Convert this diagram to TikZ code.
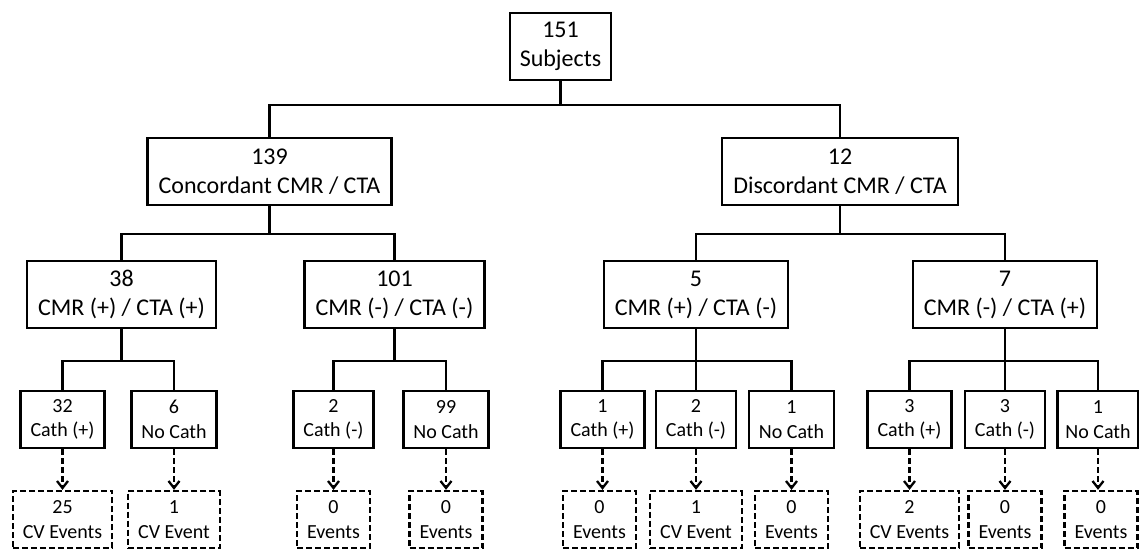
\documentclass[tikz,border=0pt]{standalone}
\usepackage{fontspec}
\setmainfont{Carlito}
\usepackage{tikz}
\usetikzlibrary{positioning, shapes.geometric, arrows.meta}
\tikzstyle{group} = [rectangle, draw=black, line width=2.3pt, text centered, align=center, minimum height=67pt, inner xsep=11pt, font=\fontsize{24}{29}\selectfont]
\tikzstyle{cath} = [rectangle, draw=black, line width=2.3pt, text centered, align=center, minimum height=57pt, inner xsep=10pt, font=\fontsize{20}{24.4}\selectfont]
\tikzstyle{events} = [cath, dash pattern=on 6pt off 3pt]
\tikzstyle{branch} = [line width=2.3pt]
\tikzstyle{arrow} = [line width=2.3pt, dash pattern=on 6pt off 3pt, -{Straight Barb[length=7pt,width=11pt]}]
\def\ttx{25pt}

\begin{document}
\begin{tikzpicture}[x=1pt, y=1pt, node distance=125pt]
\useasboundingbox (0,0) rectangle (1139,551);
\node (root) [group, inner xsep=10pt] at (560.5,504.5) {151\\Subjects};

\node (conc) [group, below of=root, xshift=-291pt] {139\\Concordant CMR / CTA};
\node (disc) [group, below of=root, xshift=279.5pt] {12\\Discordant CMR / CTA};
\draw [branch] (root.south) -- ++(0,-24) -| (conc.north);
\draw [branch] (root.south) -- ++(0,-24) -| (disc.north);

\node (pp) [group, below of=conc, yshift=2pt, xshift=-148pt] {38\\CMR (+) / CTA (+)};
\node (nn) [group, below of=conc, yshift=2pt, xshift=125pt] {101\\CMR (-) / CTA (-)};
\draw [branch] (conc.south) -- ++(0,-28) -| (pp.north);
\draw [branch] (conc.south) -- ++(0,-28) -| (nn.north);

\node (pn) [group, below of=disc, yshift=2pt, xshift=-144pt] {5\\CMR (+) / CTA (-)};
\node (np) [group, below of=disc, yshift=2pt, xshift=165pt] {7\\CMR (-) / CTA (+)};
\draw [branch] (disc.south) -- ++(0,-28) -| (pn.north);
\draw [branch] (disc.south) -- ++(0,-28) -| (np.north);

\node (pp_cp) [cath, below of=pp, xshift=-59pt] {32\\Cath (+)};
\node (pp_nc) [cath, below of=pp, xshift=52.5pt] {6\\No Cath};
\draw [branch] (pp.south) -- ++(0,-32) -| (pp_cp.north);
\draw [branch] (pp.south) -- ++(0,-32) -| (pp_nc.north);

\node (nn_cn) [cath, below of=nn, xshift=-61pt] {2\\Cath (-)};
\node (nn_nc) [cath, below of=nn, xshift=51.5pt] {99\\No Cath};
\draw [branch] (nn.south) -- ++(0,-32) -| (nn_cn.north);
\draw [branch] (nn.south) -- ++(0,-32) -| (nn_nc.north);

\node (pn_cp) [cath, below of=pn, xshift=-93.5pt] {1\\Cath (+)};
\node (pn_cn) [cath, below of=pn] {2\\Cath (-)};
\node (pn_nc) [cath, below of=pn, xshift=95.5pt] {1\\No Cath};
\draw [branch] (pn.south) -- ++(0,-32) -| (pn_cp.north);
\draw [branch] (pn.south) -- (pn_cn.north);
\draw [branch] (pn.south) -- ++(0,-32) -| (pn_nc.north);

\node (np_cp) [cath, below of=np, xshift=-95.5pt] {3\\Cath (+)};
\node (np_cn) [cath, below of=np] {3\\Cath (-)};
\node (np_nc) [cath, below of=np, xshift=93pt, inner xsep=8pt] {1\\No Cath};
\draw [branch] (np.south) -- ++(0,-32) -| (np_cp.north);
\draw [branch] (np.south) -- (np_cn.north);
\draw [branch] (np.south) -- ++(0,-32) -| (np_nc.north);

\node (pp_cp_ev) [events, below of=pp_cp, yshift=\ttx] {25\\CV Events};
\node (pp_nc_ev) [events, below of=pp_nc, yshift=\ttx] {1\\CV Event};
\node (nn_cn_ev) [events, below of=nn_cn, yshift=\ttx] {0\\Events};
\node (nn_nc_ev) [events, below of=nn_nc, yshift=\ttx] {0\\Events};
\node (pn_cp_ev) [events, below of=pn_cp, yshift=\ttx, xshift=-3pt] {0\\Events};
\node (pn_cn_ev) [events, below of=pn_cn, yshift=\ttx] {1\\CV Event};
\node (pn_nc_ev) [events, below of=pn_nc, yshift=\ttx] {0\\Events};
\node (np_cp_ev) [events, below of=np_cp, yshift=\ttx] {2\\CV Events};
\node (np_cn_ev) [events, below of=np_cn, yshift=\ttx] {0\\Events};
\node (np_nc_ev) [events, below of=np_nc, yshift=\ttx, xshift=3pt] {0\\Events};

\draw [arrow] (pp_cp.south) -- (pp_cp.south |- pp_cp_ev.north);
\draw [arrow] (pp_nc.south) -- (pp_nc.south |- pp_nc_ev.north);
\draw [arrow] (nn_cn.south) -- (nn_cn.south |- nn_cn_ev.north);
\draw [arrow] (nn_nc.south) -- (nn_nc.south |- nn_nc_ev.north);
\draw [arrow] (pn_cp.south) -- (pn_cp.south |- pn_cp_ev.north);
\draw [arrow] (pn_cn.south) -- (pn_cn.south |- pn_cn_ev.north);
\draw [arrow] (pn_nc.south) -- (pn_nc.south |- pn_nc_ev.north);
\draw [arrow] (np_cp.south) -- (np_cp.south |- np_cp_ev.north);
\draw [arrow] (np_cn.south) -- (np_cn.south |- np_cn_ev.north);
\draw [arrow] (np_nc.south) -- (np_nc.south |- np_nc_ev.north);
\end{tikzpicture}
\end{document}
